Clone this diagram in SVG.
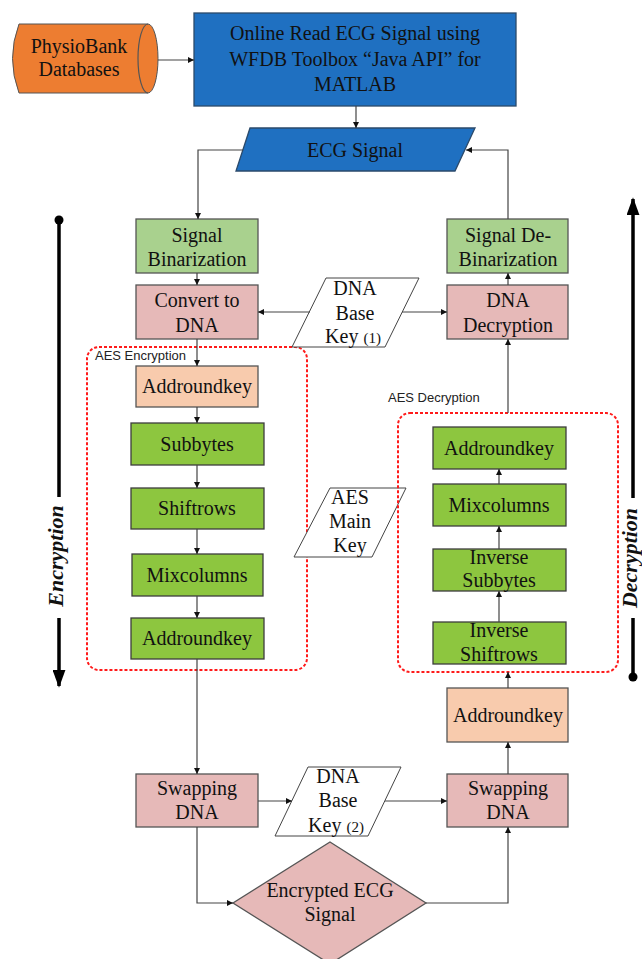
<svg xmlns="http://www.w3.org/2000/svg" width="642" height="959" viewBox="0 0 642 959">
  <defs>
    <style>
      .t { font-family: "Liberation Serif", "Times New Roman", serif; font-size: 20px; fill: #111; text-anchor: middle; }
      .sm { font-size: 15px; }
      .lbl { font-family: "Liberation Sans", Arial, sans-serif; font-size: 13px; fill: #222; }
      .side { font-family: "Liberation Serif", "Times New Roman", serif; font-size: 22px; font-weight: bold; font-style: italic; fill: #111; text-anchor: middle; }
      .box { stroke: #555; stroke-width: 1.3; }
      .blue { fill: #1F70C1; stroke: #2B4A6B; }
      .orange { fill: #ED7D31; stroke: #555; }
      .lgreen { fill: #A9D18E; }
      .pink { fill: #E6B9B8; }
      .peach { fill: #F8CBAD; }
      .green { fill: #8DC63F; stroke: #3d3d3d; }
      .white { fill: #fff; stroke: #444; }
      .conn { fill: none; stroke: #444; stroke-width: 1.2; }
      .dash { fill: none; stroke: #FF1A1A; stroke-width: 2; stroke-dasharray: 3 2; }
      .axis { fill: none; stroke: #000; stroke-width: 3.5; }
    </style>
    <marker id="arr" viewBox="0 0 10 10" refX="10" refY="5" markerWidth="6" markerHeight="6" markerUnits="userSpaceOnUse" orient="auto">
      <path d="M0,0 L10,5 L0,10 z" fill="#111"/>
    </marker>
    <marker id="big" viewBox="0 0 10 10" refX="9" refY="5" markerWidth="18" markerHeight="13" markerUnits="userSpaceOnUse" orient="auto" preserveAspectRatio="none">
      <path d="M0,0 L10,5 L0,10 z" fill="#000"/>
    </marker>
  </defs>

  <!-- source database -->
  <g id="physiobank">
    <path class="orange" d="M19,24 L148,24 A10,34.5 0 0 1 148,93 L19,93 Q6,58.5 19,24 Z"/>
    <path fill="none" stroke="#555" stroke-width="1.2" d="M148,24 A10,34.5 0 0 0 148,93"/>
    <text class="t" x="79" y="53">PhysioBank</text>
    <text class="t" x="79" y="76">Databases</text>
  </g>

  <g id="online-read">
    <rect class="box blue" x="194" y="13" width="322" height="93"/>
    <text class="t" x="355" y="40">Online Read ECG Signal using</text>
    <text class="t" x="355" y="66">WFDB Toolbox “Java API” for</text>
    <text class="t" x="355" y="91">MATLAB</text>
  </g>

  <g id="ecg-signal">
    <polygon class="box blue" points="250,128 475,128 455,171 236,171"/>
    <text class="t" x="355" y="157">ECG Signal</text>
  </g>

  <!-- encryption path -->
  <g id="signal-binarization">
    <rect class="box lgreen" x="136" y="219" width="122" height="54"/>
    <text class="t" x="197" y="242">Signal</text>
    <text class="t" x="197" y="266">Binarization</text>
  </g>
  <g id="convert-dna">
    <rect class="box pink" x="136" y="285" width="122" height="54"/>
    <text class="t" x="197" y="307">Convert to</text>
    <text class="t" x="197" y="332">DNA</text>
  </g>

  <g id="aes-encryption">
    <rect class="dash" x="87" y="347" width="220" height="323" rx="12"/>
    <text class="lbl" x="95" y="360">AES Encryption</text>
  </g>
  <g id="enc-addroundkey-1">
    <rect class="box peach" x="136" y="366" width="122" height="41"/>
    <text class="t" x="197" y="393">Addroundkey</text>
  </g>
  <g id="enc-subbytes">
    <rect class="box green" x="131" y="423" width="133" height="42"/>
    <text class="t" x="197" y="451">Subbytes</text>
  </g>
  <g id="enc-shiftrows">
    <rect class="box green" x="131" y="488" width="133" height="41"/>
    <text class="t" x="197" y="515">Shiftrows</text>
  </g>
  <g id="enc-mixcolumns">
    <rect class="box green" x="132" y="554" width="131" height="42"/>
    <text class="t" x="197" y="582">Mixcolumns</text>
  </g>
  <g id="enc-addroundkey-2">
    <rect class="box green" x="131" y="618" width="133" height="41"/>
    <text class="t" x="197" y="645">Addroundkey</text>
  </g>

  <g id="swap-enc">
    <rect class="box pink" x="136" y="774" width="122" height="53"/>
    <text class="t" x="197" y="795">Swapping</text>
    <text class="t" x="197" y="819">DNA</text>
  </g>

  <!-- keys -->
  <g id="dna-key-1">
    <polygon class="white" points="326,278 419,278 385,347 292,347"/>
    <text class="t" x="355" y="295">DNA</text>
    <text class="t" x="355" y="320">Base</text>
    <text class="t" x="353" y="343">Key <tspan class="sm">(1)</tspan></text>
  </g>
  <g id="aes-main-key">
    <polygon class="white" points="330,488 406,488 372,557 294,557"/>
    <text class="t" x="350" y="504">AES</text>
    <text class="t" x="350" y="528">Main</text>
    <text class="t" x="350" y="552">Key</text>
  </g>
  <g id="dna-key-2">
    <polygon class="white" points="308,767 401,767 368,836 275,836"/>
    <text class="t" x="338" y="783">DNA</text>
    <text class="t" x="338" y="807">Base</text>
    <text class="t" x="336" y="832">Key <tspan class="sm">(2)</tspan></text>
  </g>

  <g id="encrypted-ecg">
    <polygon class="box pink" points="330,842 426,903 330,964 233,903"/>
    <text class="t" x="330" y="897">Encrypted ECG</text>
    <text class="t" x="330" y="921">Signal</text>
  </g>

  <!-- decryption path -->
  <g id="signal-debinarization">
    <rect class="box lgreen" x="447" y="219" width="121" height="54"/>
    <text class="t" x="508" y="242">Signal De-</text>
    <text class="t" x="508" y="266">Binarization</text>
  </g>
  <g id="dna-decryption">
    <rect class="box pink" x="447" y="285" width="121" height="54"/>
    <text class="t" x="508" y="307">DNA</text>
    <text class="t" x="508" y="332">Decryption</text>
  </g>

  <g id="aes-decryption">
    <rect class="dash" x="398" y="413" width="220" height="259" rx="12"/>
    <text class="lbl" x="388" y="402">AES Decryption</text>
  </g>
  <g id="dec-addroundkey">
    <rect class="box green" x="433" y="427" width="133" height="42"/>
    <text class="t" x="499" y="455">Addroundkey</text>
  </g>
  <g id="dec-mixcolumns">
    <rect class="box green" x="433" y="484" width="133" height="42"/>
    <text class="t" x="499" y="512">Mixcolumns</text>
  </g>
  <g id="dec-inv-subbytes">
    <rect class="box green" x="433" y="549" width="133" height="42"/>
    <text class="t" x="499" y="564">Inverse</text>
    <text class="t" x="499" y="587">Subbytes</text>
  </g>
  <g id="dec-inv-shiftrows">
    <rect class="box green" x="433" y="622" width="133" height="42"/>
    <text class="t" x="499" y="637">Inverse</text>
    <text class="t" x="499" y="661">Shiftrows</text>
  </g>
  <g id="dec-addroundkey-peach">
    <rect class="box peach" x="447" y="688" width="121" height="54"/>
    <text class="t" x="508" y="722">Addroundkey</text>
  </g>
  <g id="swap-dec">
    <rect class="box pink" x="447" y="774" width="121" height="53"/>
    <text class="t" x="508" y="795">Swapping</text>
    <text class="t" x="508" y="819">DNA</text>
  </g>

  <!-- direction indicators -->
  <g id="encryption-axis">
    <circle cx="59" cy="220" r="4.5" fill="#000"/>
    <path class="axis" d="M59,220 V497"/>
    <path class="axis" d="M59,618 V686" marker-end="url(#big)"/>
    <text class="side" transform="translate(63,556) rotate(-90)">Encryption</text>
  </g>
  <g id="decryption-axis">
    <circle cx="633" cy="677" r="4.5" fill="#000"/>
    <path class="axis" d="M633,677 V618"/>
    <path class="axis" d="M633,498 V199" marker-end="url(#big)"/>
    <text class="side" transform="translate(637,558) rotate(-90)">Decryption</text>
  </g>

  <!-- connectors -->
  <g id="connectors">
    <path class="conn" d="M158,60 H194" marker-end="url(#arr)"/>
    <path class="conn" d="M356,106 V128" marker-end="url(#arr)"/>
    <path class="conn" d="M243,150 H198 V219" marker-end="url(#arr)"/>
    <path class="conn" d="M508,219 V150 H466" marker-end="url(#arr)"/>
    <path class="conn" d="M197,273 V285" marker-end="url(#arr)"/>
    <path class="conn" d="M310,312 H258" marker-end="url(#arr)"/>
    <path class="conn" d="M402,312 H447" marker-end="url(#arr)"/>
    <path class="conn" d="M508,285 V273" marker-end="url(#arr)"/>
    <path class="conn" d="M197,339 V366" marker-end="url(#arr)"/>
    <path class="conn" d="M197,407 V423" marker-end="url(#arr)"/>
    <path class="conn" d="M197,465 V488" marker-end="url(#arr)"/>
    <path class="conn" d="M197,529 V554" marker-end="url(#arr)"/>
    <path class="conn" d="M197,596 V618" marker-end="url(#arr)"/>
    <path class="conn" d="M197,659 V774" marker-end="url(#arr)"/>
    <path class="conn" d="M508,413 V339" marker-end="url(#arr)"/>
    <path class="conn" d="M499,484 V469" marker-end="url(#arr)"/>
    <path class="conn" d="M499,549 V526" marker-end="url(#arr)"/>
    <path class="conn" d="M499,622 V591" marker-end="url(#arr)"/>
    <path class="conn" d="M508,688 V672" marker-end="url(#arr)"/>
    <path class="conn" d="M508,774 V742" marker-end="url(#arr)"/>
    <path class="conn" d="M258,801 H292" marker-end="url(#arr)"/>
    <path class="conn" d="M385,801 H447" marker-end="url(#arr)"/>
    <path class="conn" d="M197,827 V903 H233" marker-end="url(#arr)"/>
    <path class="conn" d="M426,903 H508 V827" marker-end="url(#arr)"/>
  </g>
</svg>
